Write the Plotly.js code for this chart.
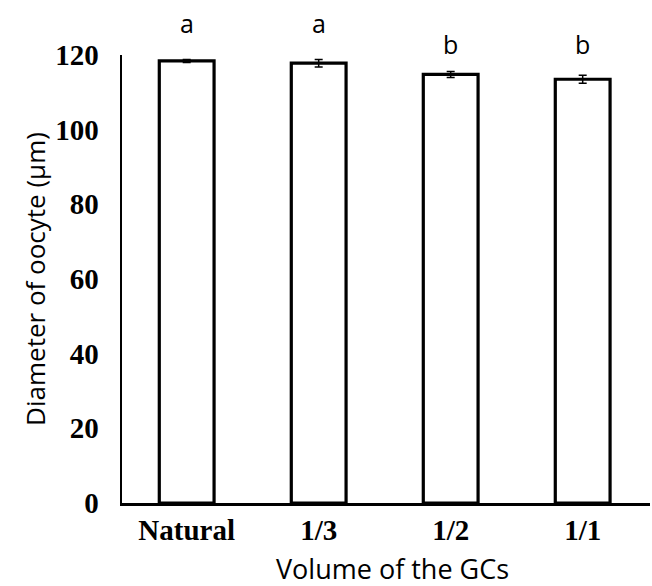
<!DOCTYPE html>
<html>
<head>
<meta charset="utf-8">
<script src="https://cdn.plot.ly/plotly-3.0.1.min.js"></script>
<style>html,body{margin:0;padding:0;background:#fff;}#chart{width:652px;height:586px;}</style>
</head>
<body>
<div id="chart"></div>
<script>
var categories = ["Natural", "1/3", "1/2", "1/1"];
var diameters = [118.4, 117.8, 114.8, 113.5];
var errors = [0.4, 1.0, 0.8, 1.1];
var letters = ["a", "a", "b", "b"];
var letterHeights = {"a": 1.03, "b": 0.982};
var xTitle = "Volume of the GCs";
var yTitle = "Diameter of oocyte (μm)";

var trace = {
  type: "bar",
  x: categories,
  y: diameters,
  width: 0.415,
  marker: {color: "#ffffff", line: {color: "#000000", width: 3.2}},
  error_y: {type: "data", array: errors, visible: true, color: "#000000", thickness: 1.5, width: 4},
  hoverinfo: "none"
};

var annotations = categories.map(function (c, i) {
  return {
    x: c, xref: "x",
    y: letterHeights[letters[i]], yref: "paper",
    yanchor: "bottom",
    text: letters[i],
    showarrow: false,
    font: {family: "Open Sans, sans-serif", size: 25, color: "#000"}
  };
});
annotations.push({
  text: yTitle, xref: "paper", yref: "paper", x: -0.165, y: 0.5,
  xanchor: "center", yanchor: "middle", textangle: -90, showarrow: false,
  font: {family: "Open Sans, sans-serif", size: 26, color: "#000"}
});
annotations.push({
  text: xTitle, xref: "paper", yref: "paper", x: 0.513, y: -0.147,
  xanchor: "center", yanchor: "middle", showarrow: false,
  font: {family: "Open Sans, sans-serif", size: 27, color: "#000"}
});

var layout = {
  width: 652, height: 586,
  margin: {l: 122, r: 2, t: 55, b: 83, pad: 0},
  paper_bgcolor: "#fff", plot_bgcolor: "#fff",
  showlegend: false,
  xaxis: {
    type: "category",
    range: [-0.49, 3.51],
    showline: true, linecolor: "#000", linewidth: 2.5,
    showgrid: false, zeroline: false, ticks: "",
    ticklabelstandoff: 0,
    tickfont: {family: "Liberation Serif, Times New Roman, serif", size: 29, color: "#000", weight: "bold"}
  },
  yaxis: {
    range: [0, 120],
    tickvals: [0, 20, 40, 60, 80, 100, 120],
    showline: true, linecolor: "#000", linewidth: 2.5,
    showgrid: false, zeroline: false, ticks: "",
    ticklabelstandoff: 15,
    tickfont: {family: "Liberation Serif, Times New Roman, serif", size: 29, color: "#000", weight: "bold"}
  },
  annotations: annotations
};

Plotly.newPlot("chart", [trace], layout, {staticPlot: true, displayModeBar: false});
</script>
</body>
</html>
